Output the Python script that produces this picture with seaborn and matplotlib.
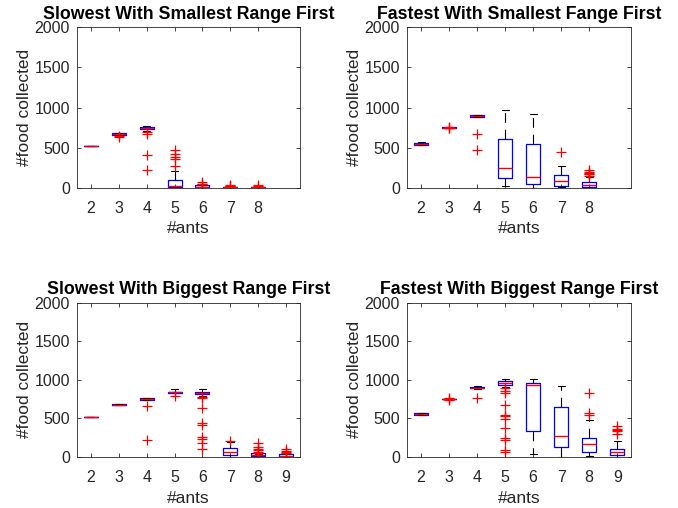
import matplotlib
matplotlib.use("Agg")
import matplotlib.pyplot as plt
import seaborn as sns

sns.set_style("ticks")
plt.rcParams['font.family'] = ['Liberation Sans', 'DejaVu Sans']
plt.rcParams['lines.scale_dashes'] = False

# number of ants per group
ants_top = [2, 3, 4, 5, 6, 7, 8]
ants_bottom = [2, 3, 4, 5, 6, 7, 8, 9]

# Slowest With Smallest Range First
tl_q1 = [520, 663, 730, 8, 5, 2, 1]
tl_med = [522, 672, 742, 25, 15, 6, 4]
tl_q3 = [525, 682, 753, 100, 30, 15, 10]
tl_lo = [520, 658, 711, 0, 0, 0, 0]
tl_hi = [525, 688, 765, 212, 35, 15, 12]
tl_fliers = [[], [650, 630], [690, 675, 405, 215], [470, 415, 385, 355, 275],
             [70, 50, 40], [35, 25, 20], [30, 20]]

# Fastest With Smallest Fange First
tr_q1 = [535, 746, 885, 117, 50, 25, 12]
tr_med = [548, 749, 895, 249, 137, 84, 30]
tr_q3 = [562, 752, 905, 603, 549, 155, 67]
tr_lo = [530, 746, 878, 25, 0, 3, 0]
tr_hi = [566, 752, 910, 969, 915, 274, 130]
tr_fliers = [[], [755, 745, 740], [670, 470], [], [], [449],
             [215, 200, 185, 175, 165, 150]]

# Slowest With Biggest Range First
bl_q1 = [520, 672, 740, 826, 813, 26, 9, 2]
bl_med = [522, 678, 750, 838, 829, 69, 25, 15]
bl_q3 = [524, 686, 763, 846, 846, 113, 48, 35]
bl_lo = [520, 670, 738, 790, 786, 0, 0, 0]
bl_hi = [524, 690, 765, 877, 881, 194, 45, 40]
bl_fliers = [[], [], [665, 216], [785], [775, 760, 640, 436, 415, 255, 230, 177, 100],
             [211], [175, 135, 110, 90, 70, 55], [110, 80, 60, 50]]

# Fastest With Biggest Range First
br_q1 = [540, 748, 888, 936, 338, 130, 65, 30]
br_med = [552, 753, 900, 962, 932, 269, 173, 65]
br_q3 = [565, 758, 912, 979, 958, 647, 247, 108]
br_lo = [538, 745, 885, 906, 35, 4, 13, 0]
br_hi = [568, 760, 915, 1010, 1014, 915, 481, 208]
br_fliers = [[], [760, 750, 745], [763],
             [893, 850, 830, 676, 546, 525, 490, 373, 243, 221, 91, 69],
             [], [], [829, 569, 546], [400, 365, 345, 335, 300]]

dark = '#262626'


def draw_panel(ax, ants, q1, med, q3, lo, hi, fliers, title):
    stats = []
    for i in range(len(ants)):
        stats.append({'q1': q1[i], 'med': med[i], 'q3': q3[i],
                      'whislo': lo[i], 'whishi': hi[i], 'fliers': fliers[i]})
    ax.bxp(stats, positions=ants, widths=0.5, capwidths=0.25, manage_ticks=False,
           boxprops=dict(color='blue', lw=0.9),
           medianprops=dict(color='red', lw=1.0),
           whiskerprops=dict(color='black', lw=0.8, linestyle=(0, (7, 5))),
           capprops=dict(color='black', lw=0.8),
           flierprops=dict(marker='+', markeredgecolor='red', markersize=7,
                           markeredgewidth=0.9, linestyle='none'))
    ax.set_xlim(1.5, 9.5)
    ax.set_ylim(0, 2000)
    ax.set_xticks(ants)
    ax.set_yticks([0, 500, 1000, 1500, 2000])
    ax.tick_params(direction='in', top=True, right=True, length=3, width=0.6,
                   colors=dark, labelsize=11.5)
    ax.tick_params(axis='x', pad=9.5)
    ax.tick_params(axis='y', pad=5)
    for sp in ax.spines.values():
        sp.set_linewidth(0.6)
        sp.set_color(dark)
    ax.set_xlabel('#ants', fontsize=12.5, color=dark, labelpad=4)
    ax.set_ylabel('#food collected', fontsize=12.5, color=dark, labelpad=2)
    ax.set_title(title, fontsize=12.8, fontweight='bold', color='black', pad=6)


fig = plt.figure(figsize=(6.78, 5.08), dpi=100)
ax_tl = fig.add_axes([0.1136, 0.6305, 0.3289, 0.3157])
ax_tr = fig.add_axes([0.6003, 0.6305, 0.3308, 0.3157])
ax_bl = fig.add_axes([0.1136, 0.1004, 0.3289, 0.3037])
ax_br = fig.add_axes([0.6003, 0.1004, 0.3308, 0.3037])

draw_panel(ax_tl, ants_top, tl_q1, tl_med, tl_q3, tl_lo, tl_hi, tl_fliers,
           'Slowest With Smallest Range First')
draw_panel(ax_tr, ants_top, tr_q1, tr_med, tr_q3, tr_lo, tr_hi, tr_fliers,
           'Fastest With Smallest Fange First')
draw_panel(ax_bl, ants_bottom, bl_q1, bl_med, bl_q3, bl_lo, bl_hi, bl_fliers,
           'Slowest With Biggest Range First')
draw_panel(ax_br, ants_bottom, br_q1, br_med, br_q3, br_lo, br_hi, br_fliers,
           'Fastest With Biggest Range First')

fig.savefig('out.png', dpi=100)
plt.close(fig)
